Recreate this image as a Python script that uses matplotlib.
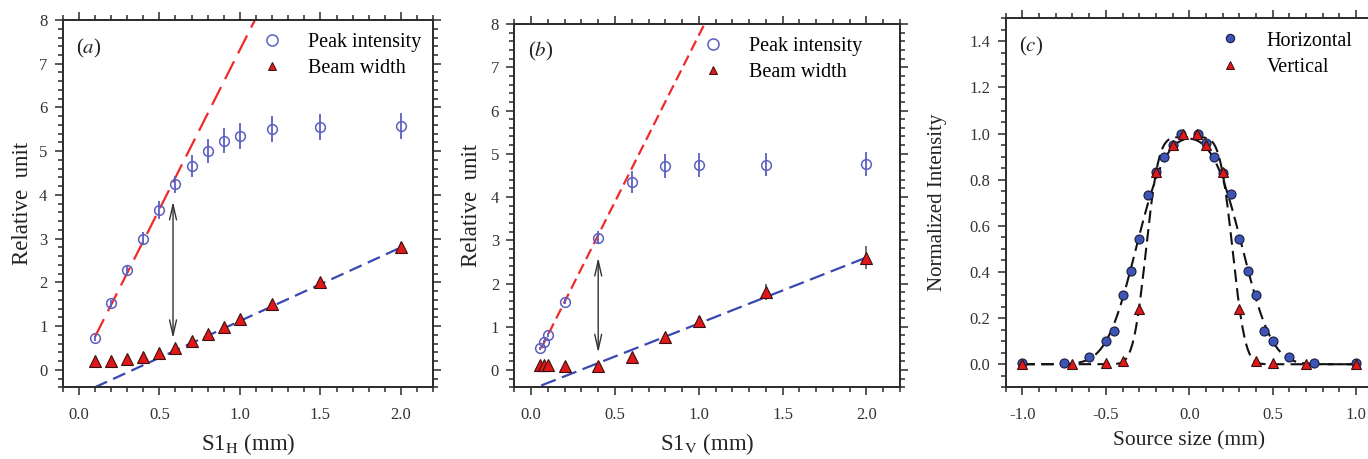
import numpy as np
import matplotlib
matplotlib.use("Agg")
import matplotlib.pyplot as plt
from matplotlib.ticker import MultipleLocator, FormatStrFormatter
from matplotlib.lines import Line2D
from math import erf

plt.rcParams['font.family'] = ['Liberation Serif', 'DejaVu Serif']
plt.rcParams['mathtext.fontset'] = 'stix'
plt.rcParams['axes.unicode_minus'] = False

# ---------------- data: panel (a) ----------------
a_x = [0.1, 0.2, 0.3, 0.4, 0.5, 0.6, 0.7, 0.8, 0.9, 1.0, 1.2, 1.5, 2.0]
a_peak = [0.72, 1.52, 2.29, 3.0, 3.66, 4.24, 4.67, 5.0, 5.24, 5.34, 5.5, 5.56, 5.57]
a_peak_err = [0.05, 0.08, 0.1, 0.15, 0.2, 0.2, 0.25, 0.28, 0.28, 0.3, 0.3, 0.3, 0.3]
a_width = [0.21, 0.21, 0.24, 0.30, 0.38, 0.51, 0.665, 0.82, 0.99, 1.16, 1.5, 2.0, 2.81]
a_width_err = [0.02, 0.02, 0.02, 0.03, 0.03, 0.03, 0.04, 0.05, 0.05, 0.06, 0.07, 0.08, 0.12]
a_red_fit = (7.3, 0.02)      # slope, intercept
a_red_range = [0.1, 1.2]
a_blue_fit = (1.684, -0.568)
a_blue_range = [0.1, 2.0]
a_arrow = (0.585, 3.85, 0.72)   # x, y_top, y_bottom

# ---------------- data: panel (b) ----------------
b_x = [0.05, 0.075, 0.1, 0.2, 0.4, 0.6, 0.8, 1.0, 1.4, 2.0]
b_peak = [0.50, 0.655, 0.81, 1.58, 3.06, 4.35, 4.72, 4.74, 4.75, 4.76]
b_peak_err = [0.03, 0.03, 0.04, 0.06, 0.15, 0.25, 0.27, 0.27, 0.27, 0.27]
b_width = [0.12, 0.12, 0.12, 0.10, 0.10, 0.31, 0.76, 1.14, 1.80, 2.60]
b_width_err = [0.02, 0.02, 0.02, 0.02, 0.03, 0.04, 0.08, 0.1, 0.18, 0.27]
b_red_fit = (7.7, 0.04)
b_red_range = [0.06, 1.2]
b_blue_fit = (1.526, -0.45)
b_blue_range = [0.06, 2.0]
b_arrow = (0.4, 2.6, 0.4)

# ---------------- data: panel (c) ----------------
c_hx = [-1.0, -0.75, -0.6, -0.5, -0.45, -0.4, -0.35, -0.3, -0.25, -0.2, -0.15, -0.1, -0.05,
        0.05, 0.1, 0.15, 0.2, 0.25, 0.3, 0.35, 0.4, 0.45, 0.5, 0.6, 0.75, 1.0]
c_hy = [0.005, 0.007, 0.03, 0.10, 0.145, 0.30, 0.405, 0.545, 0.735, 0.832, 0.90, 0.95, 1.0,
        1.0, 0.96, 0.90, 0.83, 0.74, 0.545, 0.405, 0.30, 0.145, 0.10, 0.03, 0.007, 0.005]
c_vx = [-1.0, -0.7, -0.5, -0.4, -0.3, -0.2, -0.1, -0.04, 0.044, 0.1, 0.2, 0.3, 0.4, 0.5, 0.7, 1.0]
c_vy = [0.0, 0.0, 0.007, 0.015, 0.24, 0.835, 0.95, 1.0, 1.0, 0.95, 0.835, 0.24, 0.015, 0.007, 0.0, 0.0]
# flat-top fit model parameters: amplitude, half-width, gaussian sigma
c_h_fit = (1.0, 0.32, 0.14)
c_v_fit = (0.985, 0.26, 0.06)

BLUE_O = '#5a5fc0'
RED_T = '#e01818'
RED_LINE = '#f02a2a'
BLUE_LINE = '#3848b0'
DARK = '#2a2a2a'


def flat_top(x, A, a, s):
    return np.array([A * 0.5 * (erf((xi + a) / (s * np.sqrt(2))) - erf((xi - a) / (s * np.sqrt(2))))
                     for xi in x])


def style_axes(ax, xmaj, xmin, ymaj, ymin, xfmt, yfmt):
    ax.xaxis.set_major_locator(MultipleLocator(xmaj))
    ax.xaxis.set_minor_locator(MultipleLocator(xmin))
    ax.yaxis.set_major_locator(MultipleLocator(ymaj))
    ax.yaxis.set_minor_locator(MultipleLocator(ymin))
    ax.xaxis.set_major_formatter(FormatStrFormatter(xfmt))
    ax.yaxis.set_major_formatter(FormatStrFormatter(yfmt))
    ax.tick_params(which='both', direction='out', top=True, right=True,
                   color=DARK, width=1.1, labelsize=12, labelcolor='#333333')
    ax.tick_params(which='major', length=6)
    ax.tick_params(which='minor', length=3.5)
    ax.tick_params(axis='x', which='major', pad=8)
    ax.tick_params(axis='y', which='major', pad=5)
    for sp in ax.spines.values():
        sp.set_linewidth(1.4)
        sp.set_color(DARK)


fig = plt.figure(figsize=(13.68, 4.59), dpi=100)
ax_a = fig.add_axes([0.0458, 0.1562, 0.2709, 0.8002])
ax_b = fig.add_axes([0.3760, 0.1562, 0.2819, 0.7915])
ax_c = fig.add_axes([0.7352, 0.1562, 0.2683, 0.8039])


def panel_ab(ax, x, peak, perr, width, werr, red_fit, red_rng, blue_fit, blue_rng, arrow,
             tag, xlabel, red_dash, blue_dash, leg_x, ylabelpad):
    xr = np.array(red_rng)
    ax.plot(xr, red_fit[0] * xr + red_fit[1], color=RED_LINE, lw=1.6, dashes=red_dash, zorder=2)
    xb = np.array(blue_rng)
    ax.plot(xb, blue_fit[0] * xb + blue_fit[1], color=BLUE_LINE, lw=1.6, dashes=blue_dash, zorder=2)
    ax.errorbar(x, peak, yerr=perr, fmt='o', ms=7, mfc='none', mec=BLUE_O, mew=1.1,
                ecolor=BLUE_O, elinewidth=1.3, capsize=0, zorder=4)
    ax.errorbar(x, width, yerr=werr, fmt='^', ms=8.5, mfc=RED_T, mec='#3a1010', mew=0.8,
                ecolor='#555555', elinewidth=1.2, capsize=0, zorder=5)
    ax.annotate('', xy=(arrow[0], arrow[2]), xytext=(arrow[0], arrow[1]),
                arrowprops=dict(arrowstyle='<->,head_length=1.1,head_width=0.25',
                                color='#333333', lw=1.0, shrinkA=0, shrinkB=0))
    ax.set_xlim(-0.1, 2.2)
    ax.set_ylim(-0.4, 8)
    style_axes(ax, 0.5, 0.1, 1, 0.2, '%.1f', '%d')
    ax.set_ylabel('Relative  unit', fontsize=16.5, color='#222222', labelpad=ylabelpad)
    ax.set_xlabel(xlabel, fontsize=16.5, color='#222222', labelpad=6)
    ax.text(0.035, 0.955, tag, transform=ax.transAxes, fontsize=15, va='top', ha='left',
            color='#222222')
    handles = [Line2D([], [], ls='none', marker='o', ms=8, mfc='none', mec=BLUE_O, mew=1.1),
               Line2D([], [], ls='none', marker='^', ms=5.5, mfc=RED_T, mec='#3a1010', mew=0.7)]
    ax.legend(handles, ['Peak intensity', 'Beam width'], loc='upper left',
              bbox_to_anchor=(leg_x, 1.0), frameon=False, fontsize=14.5, handlelength=1.2,
              handletextpad=1.2, labelspacing=0.35, borderaxespad=0.25)


panel_ab(ax_a, a_x, a_peak, a_peak_err, a_width, a_width_err, a_red_fit, a_red_range,
         a_blue_fit, a_blue_range, a_arrow, r'($\mathit{a}$)', r'S1$_\mathrm{H}$ (mm)',
         (9, 4), (6, 3), 0.497, 4)
panel_ab(ax_b, b_x, b_peak, b_peak_err, b_width, b_width_err, b_red_fit, b_red_range,
         b_blue_fit, b_blue_range, b_arrow, r'($\mathit{b}$)', r'S1$_\mathrm{V}$ (mm)',
         (5, 2.5), (7, 3), 0.450, 6)

# ---------------- panel (c) ----------------
xf = np.linspace(-1.0, 1.0, 401)
ax_c.plot(xf, flat_top(xf, *c_h_fit), color='#111111', lw=1.5, dashes=(6, 3), zorder=2)
ax_c.plot(xf, flat_top(xf, *c_v_fit), color='#111111', lw=1.5, dashes=(6, 3), zorder=2)
ax_c.plot(c_hx, c_hy, ls='none', marker='o', ms=6.5, mfc='#3d55b5', mec='#1a1a3a', mew=0.8,
          zorder=4)
ax_c.plot(c_vx, c_vy, ls='none', marker='^', ms=7.5, mfc=RED_T, mec='#3a1010', mew=0.8,
          zorder=5)
ax_c.set_xlim(-1.1, 1.1)
ax_c.set_ylim(-0.1, 1.5)
style_axes(ax_c, 0.5, 0.1, 0.2, 0.05, '%.1f', '%.1f')
ax_c.set_ylabel('Normalized Intensity', fontsize=15, color='#222222', labelpad=16)
ax_c.set_xlabel('Source size (mm)', fontsize=15.5, color='#222222', labelpad=6)
ax_c.text(0.035, 0.955, r'($\mathit{c}$)', transform=ax_c.transAxes, fontsize=15,
          va='top', ha='left', color='#222222')
handles_c = [Line2D([], [], ls='none', marker='o', ms=6, mfc='#3d55b5', mec='#1a1a3a', mew=0.8),
             Line2D([], [], ls='none', marker='^', ms=6, mfc=RED_T, mec='#3a1010', mew=0.7)]
ax_c.legend(handles_c, ['Horizontal', 'Vertical'], loc='upper left',
            bbox_to_anchor=(0.543, 1.0), frameon=False, fontsize=14.5, handlelength=1.2,
            handletextpad=1.2, labelspacing=0.35, borderaxespad=0.25)

fig.savefig('out.png', dpi=100)
